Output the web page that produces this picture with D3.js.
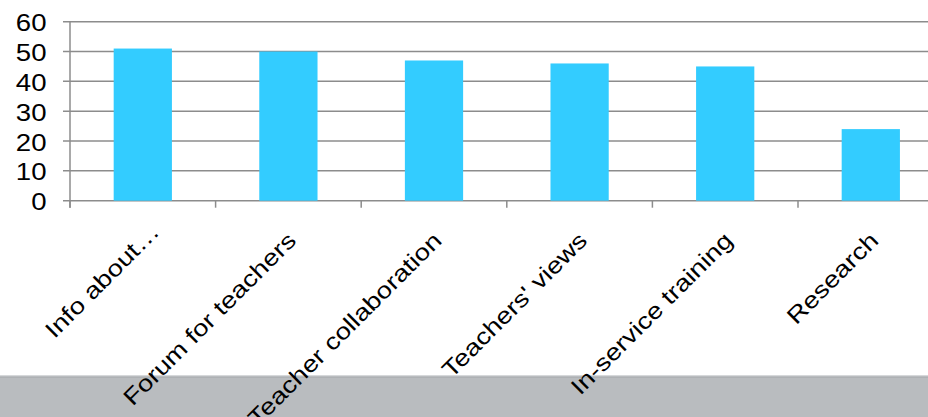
<!DOCTYPE html>
<html>
<head>
<meta charset="utf-8">
<script src="https://cdn.jsdelivr.net/npm/d3@7"></script>
<style>
  html, body { margin: 0; padding: 0; background: #ffffff; }
  svg { display: block; }
  text { font-family: "Liberation Sans", Arial, sans-serif; fill: #000; }
</style>
</head>
<body>
<svg id="chart" width="928" height="417"></svg>
<script>
const categories = ["Info about…", "Forum for teachers", "Teacher collaboration", "Teachers' views", "In-service training", "Research"];
const values = [51, 50, 47, 46, 45, 24];
const yTicks = [0, 10, 20, 30, 40, 50, 60];

const svg = d3.select("#chart");
const W = 928, H = 417;
const left = 70, step = 145.6;
const x = d3.scaleBand().domain(categories)
  .range([left, left + step * categories.length])
  .paddingInner(0.6).paddingOuter(0.3);
const y = d3.scaleLinear().domain([0, 60]).range([200.7, 21.7]);
const sx = 1.2; // horizontal stretch of text in the reference

// bottom grey band
svg.append("rect").attr("x", 0).attr("y", 375).attr("width", W).attr("height", H - 375).attr("fill", "#b9bcbf");
svg.append("line").attr("x1", 0).attr("x2", W).attr("y1", 375.5).attr("y2", 375.5).attr("stroke", "#d6d8da").attr("stroke-width", 1);
svg.append("line").attr("x1", 0).attr("x2", W).attr("y1", 377.5).attr("y2", 377.5).attr("stroke", "#aeb1b4").attr("stroke-width", 1);

const gridColor = "#8c8c8c";
// gridlines
svg.append("g").selectAll("line").data(yTicks).join("line")
  .attr("x1", left - 7).attr("x2", W)
  .attr("y1", d => y(d)).attr("y2", d => y(d))
  .attr("stroke", gridColor).attr("stroke-width", 1.5);

// y axis line
svg.append("line").attr("x1", left).attr("x2", left).attr("y1", y(60)).attr("y2", y(0) + 7)
  .attr("stroke", gridColor).attr("stroke-width", 1.5);

// x ticks at category boundaries
const boundaries = categories.map(c => x(c) - x.step() * x.paddingInner() / 2);
svg.append("g").selectAll("line").data(boundaries).join("line")
  .attr("x1", d => d).attr("x2", d => d)
  .attr("y1", y(0)).attr("y2", y(0) + 7)
  .attr("stroke", gridColor).attr("stroke-width", 1.5);

// bars
svg.append("g").selectAll("rect").data(values).join("rect")
  .attr("x", (d, i) => x(categories[i]))
  .attr("width", x.bandwidth())
  .attr("y", d => y(d))
  .attr("height", d => y(0) - y(d))
  .attr("fill", "#33ccff");

// y labels
svg.append("g").selectAll("text").data(yTicks).join("text")
  .attr("transform", d => `translate(46.5,${y(d) + 9.5}) scale(${sx},1)`)
  .attr("text-anchor", "end")
  .attr("font-size", 23)
  .text(d => d);

// x labels (rotated 45°, glyphs stretched along the baseline);
// the first label is nudged up-right so it stays inside the left edge, as in the reference
svg.append("g").selectAll("text").data(categories).join("text")
  .attr("transform", (d, i) => {
    const shift = i === 0 ? 9 : 0;
    return `translate(${x(d) + x.bandwidth() / 2 + 9 + shift},${242 - shift}) rotate(-45) scale(${sx},1)`;
  })
  .attr("text-anchor", "end")
  .attr("font-size", 23)
  .text(d => d);
</script>
</body>
</html>
